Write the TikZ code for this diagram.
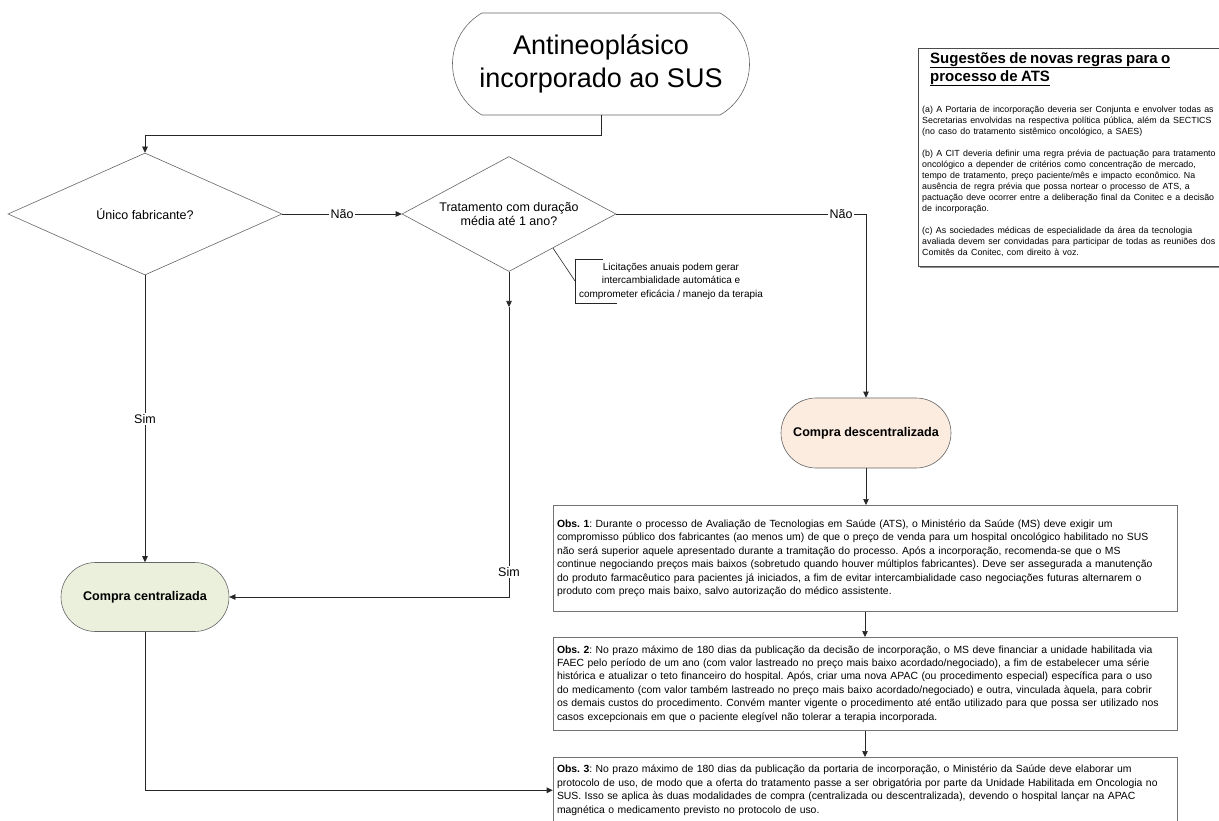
\documentclass[tikz,border=0pt]{standalone}
\usepackage{fontspec}
\setmainfont{Liberation Sans}
\usepackage{tikz}
\usetikzlibrary{shapes.geometric,shapes.misc,arrows.meta,calc,shadows}
\frenchspacing

\definecolor{cenfill}{HTML}{EBF0DD}
\definecolor{decfill}{HTML}{FCEBDF}

\begin{document}
\begin{tikzpicture}[x=1pt,y=-1pt,
  conn/.style={draw=black!85, line width=0.6pt},
  arr/.style={conn, -{Triangle[length=6pt,width=5.5pt]}},
  terminal/.style={rounded rectangle, draw=black!60, line width=0.6pt, inner sep=2pt, align=center},
  decision/.style={diamond, draw=black!60, line width=0.6pt, inner sep=0pt, align=center,
    font=\fontsize{12.5}{14.5}\selectfont},
  obsbox/.style={rectangle, draw=black!55, line width=0.6pt, anchor=north, text width=616pt,
    inner xsep=4pt, align=left, font=\fontsize{10.4}{13.4}\selectfont},
  edgelbl/.style={fill=white, inner sep=1.5pt, font=\fontsize{12.5}{14}\selectfont},
  sugbox/.style={rectangle, draw=black!70, fill=white, anchor=north west, align=left, text width=300pt,
    inner sep=4pt, drop shadow={shadow xshift=2pt, shadow yshift=-2pt, fill=black!45, opacity=1}}]
\useasboundingbox (0,0) rectangle (1219,821);
\fill[white] (0,0) rectangle (1219,821);
\clip (0,0) rectangle (1219,821);

% flow
\node[terminal, minimum width=301pt, minimum height=102pt, rounded rectangle arc length=120,
  font=\fontsize{27}{33}\selectfont] (start) at (601,64) {Antineoplásico\\incorporado ao SUS};
\node[decision, aspect=2.25, minimum width=274pt, minimum height=122pt] (d1) at (145,214) {Único fabricante?};
\node[decision, aspect=1.86, minimum width=214pt, minimum height=115pt] (d2) at (509,214) {Tratamento com duração\\média até 1 ano?};
\node[terminal, fill=cenfill, minimum width=172pt, minimum height=69pt,
  font=\bfseries\fontsize{12.6}{14}\selectfont] (cen) at (145,597) {Compra centralizada};
\node[terminal, fill=decfill, minimum width=174pt, minimum height=70pt,
  font=\bfseries\fontsize{12.6}{14}\selectfont] (dec) at (866,433) {Compra descentralizada};
\coordinate (dmid) at (509,307);

% notes
\node[obsbox, minimum height=106pt] (obs1) at (865,505) {\textbf{Obs. 1}: Durante o processo de Avaliação de Tecnologias em Saúde (ATS), o Ministério da Saúde (MS) deve exigir um\\
compromisso público dos fabricantes (ao menos um) de que o preço de venda para um hospital oncológico habilitado no SUS\\
não será superior aquele apresentado durante a tramitação do processo. Após a incorporação, recomenda-se que o MS\\
continue negociando preços mais baixos (sobretudo quando houver múltiplos fabricantes). Deve ser assegurada a manutenção\\
do produto farmacêutico para pacientes já iniciados, a fim de evitar intercambialidade caso negociações futuras alternarem o\\
produto com preço mais baixo, salvo autorização do médico assistente.};
\node[obsbox, minimum height=93pt] (obs2) at (865,637) {\textbf{Obs. 2}: No prazo máximo de 180 dias da publicação da decisão de incorporação, o MS deve financiar a unidade habilitada via\\
FAEC pelo período de um ano (com valor lastreado no preço mais baixo acordado/negociado), a fim de estabelecer uma série\\
histórica e atualizar o teto financeiro do hospital. Após, criar uma nova APAC (ou procedimento especial) específica para o uso\\
do medicamento (com valor também lastreado no preço mais baixo acordado/negociado) e outra, vinculada àquela, para cobrir\\
os demais custos do procedimento. Convém manter vigente o procedimento até então utilizado para que possa ser utilizado nos\\
casos excepcionais em que o paciente elegível não tolerar a terapia incorporada.};
\node[obsbox, minimum height=66pt] (obs3) at (865,757) {\textbf{Obs. 3}: No prazo máximo de 180 dias da publicação da portaria de incorporação, o Ministério da Saúde deve elaborar um\\
protocolo de uso, de modo que a oferta do tratamento passe a ser obrigatória por parte da Unidade Habilitada em Oncologia no\\
SUS. Isso se aplica às duas modalidades de compra (centralizada ou descentralizada), devendo o hospital lançar na APAC\\
magnética o medicamento previsto no protocolo de uso.};

\node[align=center, font=\fontsize{10}{13.5}\selectfont] (lic) at (671,281) {Licitações anuais podem gerar\\intercambialidade automática e\\comprometer eficácia / manejo da terapia};
\coordinate (brk) at (575,281);
\draw[conn] (603,259) -| (575,303) -- (617,303);
\draw[conn] ($(d2.east)!0.59!(d2.south)$) -- (brk);

\node[sugbox] (sug) at (918,48) {%
\parskip=0pt
{\fontsize{15}{18}\selectfont\bfseries\hspace*{8pt}\underline{Sugestões de novas regras para o}\\\hspace*{8pt}\underline{processo de ATS}\par}
\vspace{19pt}
{\fontsize{8.85}{11}\selectfont
(a) A Portaria de incorporação deveria ser Conjunta e envolver todas as\\
Secretarias envolvidas na respectiva política pública, além da SECTICS\\
(no caso do tratamento sistêmico oncológico, a SAES)\par
\vspace{11pt}
(b) A CIT deveria definir uma regra prévia de pactuação para tratamento\\
oncológico a depender de critérios como concentração de mercado,\\
tempo de tratamento, preço paciente/mês e impacto econômico. Na\\
ausência de regra prévia que possa nortear o processo de ATS, a\\
pactuação deve ocorrer entre a deliberação final da Conitec e a decisão\\
de incorporação.\par
\vspace{11pt}
(c) As sociedades médicas de especialidade da área da tecnologia\\
avaliada devem ser convidadas para participar de todas as reuniões dos\\
Comitês da Conitec, com direito à voz.\par}
\vspace{5pt}\hrule height 0pt width 0pt};

% connectors
\draw[arr] (start.south) -- ++(0,20) -| (d1.north);
\draw[arr] (d1.east) -- node[edgelbl] {Não} (d2.west);
\draw[arr] (d2.east) -| node[edgelbl, pos=0.45] {Não} (dec.north);
\draw[arr] (d1.south) -- node[edgelbl] {Sim} (cen.north);
\draw[arr] (d2.south) -- (dmid);
\draw[arr] (dmid) |- node[edgelbl, pos=0.457] {Sim} (cen.east);
\draw[arr] (dec.south) -- (dec.south |- obs1.north);
\draw[arr] (obs1.south) -- (obs2.north);
\draw[arr] (obs2.south) -- (obs3.north);
\draw[arr] (cen.south) |- (obs3.west);
\end{tikzpicture}
\end{document}
